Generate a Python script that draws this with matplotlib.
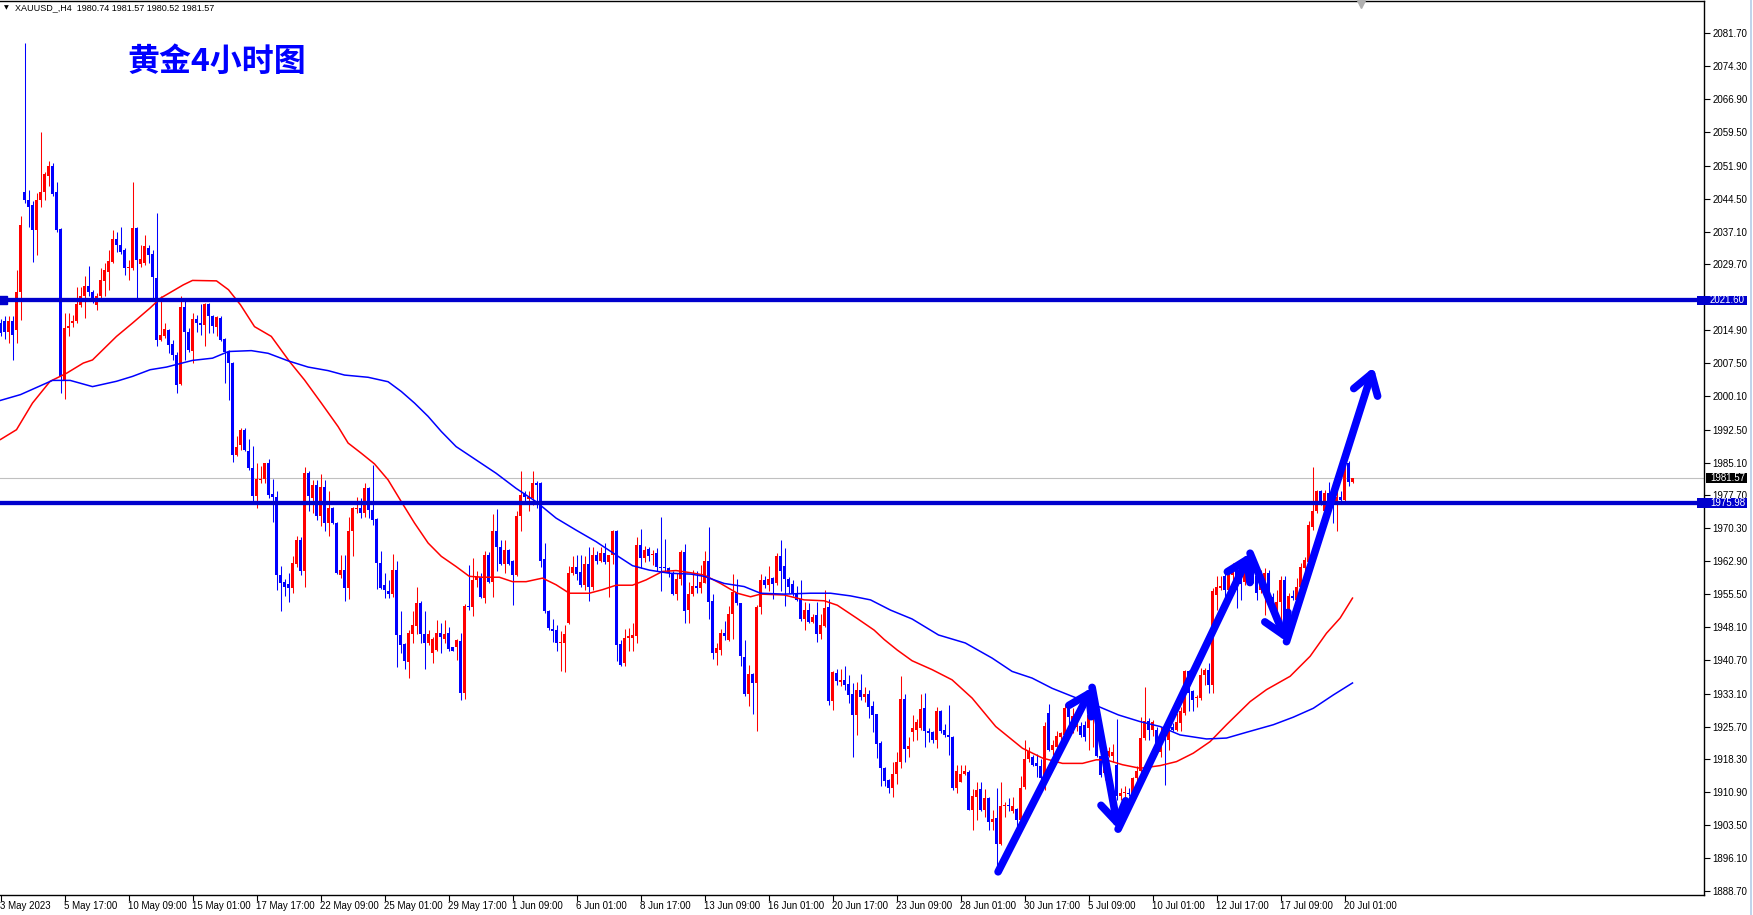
"""
XAUUSD H4 chart (MT4 style) with MAs, levels and trend arrows
"""
import matplotlib
matplotlib.use('Agg')
import matplotlib.pyplot as plt
import matplotlib.transforms as mtransforms
from matplotlib.patches import Rectangle
from matplotlib.lines import Line2D
import numpy as np

plt.rcParams['font.family'] = ['Liberation Sans', 'DejaVu Sans']

# ---- candle data (H4, 3 May 2023 -> 20 Jul 2023) ----
open_ = [
    2016.6, 2016.9, 2014.6, 2017.0, 2015.0, 2023.6, 2046.0, 2044.2, 2043.0, 2037.5,
    2044.2, 2046.0, 2049.7, 2051.9, 2046.1, 2037.7, 2003.7, 2015.4, 2016.5, 2016.9,
    2020.6, 2022.5, 2024.9, 2023.6, 2020.6, 2022.5, 2025.9, 2028.1, 2030.2, 2035.5,
    2034.1, 2033.0, 2028.8, 2028.9, 2038.0, 2029.8, 2030.0, 2033.4, 2032.0, 2026.6,
    2012.8, 2013.7, 2015.0, 2011.8, 2009.4, 2002.8, 2020.2, 2014.6, 2010.2, 2017.4,
    2016.6, 2016.1, 2020.8, 2018.2, 2015.7, 2017.6, 2012.9, 2010.0, 2007.5, 1986.8,
    1989.0, 1992.4, 1987.7, 1983.8, 1977.5, 1981.1, 1981.3, 1984.9, 1978.0, 1977.3,
    1959.8, 1958.3, 1957.8, 1956.8, 1962.3, 1967.7, 1960.7, 1982.8, 1977.1, 1980.1,
    1973.0, 1979.5, 1971.5, 1974.8, 1971.6, 1959.8, 1960.9, 1956.8, 1969.6, 1974.6,
    1974.8, 1973.7, 1979.3, 1974.5, 1972.3, 1962.4, 1957.6, 1956.3, 1955.5, 1960.9,
    1946.3, 1944.3, 1940.3, 1946.6, 1948.4, 1953.6, 1946.5, 1944.4, 1942.3, 1942.9,
    1946.8, 1945.3, 1946.8, 1943.5, 1943.7, 1945.0, 1933.2, 1952.9, 1952.5, 1958.7,
    1959.3, 1954.6, 1964.3, 1958.3, 1969.8, 1966.0, 1962.3, 1965.5, 1963.0, 1959.8,
    1973.1, 1978.2, 1976.9, 1977.1, 1980.6, 1980.5, 1963.4, 1951.8, 1947.6, 1947.5,
    1944.4, 1944.6, 1949.1, 1960.2, 1961.7, 1960.4, 1957.6, 1962.3, 1957.0, 1964.3,
    1963.0, 1964.8, 1962.8, 1964.3, 1969.6, 1944.3, 1940.1, 1945.6, 1945.6, 1946.1,
    1966.6, 1963.6, 1965.6, 1964.3, 1964.7, 1961.7, 1961.5, 1961.3, 1960.0, 1955.5,
    1958.9, 1964.9, 1951.9, 1955.5, 1957.3, 1956.8, 1958.1, 1963.0, 1953.9, 1942.3,
    1942.9, 1946.7, 1945.1, 1951.1, 1956.0, 1953.4, 1941.3, 1933.0, 1937.5, 1935.4,
    1952.5, 1958.7, 1957.5, 1959.2, 1957.9, 1964.0, 1961.8, 1959.0, 1957.8, 1955.5,
    1954.5, 1949.8, 1951.9, 1949.3, 1950.8, 1946.5, 1948.3, 1952.5, 1931.5, 1937.7,
    1935.8, 1936.1, 1935.2, 1933.0, 1928.3, 1934.0, 1932.3, 1933.0, 1930.3, 1928.5,
    1922.0, 1916.3, 1913.7, 1911.8, 1915.0, 1917.6, 1932.0, 1920.6, 1924.5, 1925.0,
    1925.3, 1929.8, 1924.6, 1924.4, 1922.7, 1929.1, 1924.9, 1923.8, 1923.4, 1911.8,
    1913.3, 1915.1, 1915.4, 1907.0, 1909.9, 1911.6, 1906.9, 1909.6, 1904.1, 1905.0,
    1899.3, 1907.7, 1908.0, 1906.6, 1907.1, 1904.7, 1912.0, 1918.4, 1918.8, 1917.5,
    1916.8, 1914.1, 1928.7, 1920.5, 1921.2, 1923.4, 1923.8, 1929.8, 1924.5, 1925.5,
    1925.9, 1926.0, 1925.3, 1928.1, 1929.5, 1919.0, 1915.2, 1919.1, 1919.0, 1917.1,
    1910.0, 1910.8, 1910.7, 1910.8, 1914.0, 1915.6, 1923.1, 1927.0, 1925.0, 1925.0,
    1920.0, 1925.7, 1922.7, 1925.7, 1924.9, 1926.5, 1928.7, 1938.1, 1933.6, 1932.2,
    1932.1, 1937.3, 1938.4, 1935.1, 1955.3, 1956.8, 1959.5, 1956.5, 1959.7, 1961.0,
    1961.1, 1958.3, 1960.2, 1962.1, 1959.5, 1956.5, 1955.7, 1960.2, 1954.9, 1951.4,
    1953.8, 1958.7, 1949.7, 1955.1, 1954.2, 1957.2, 1961.3, 1962.8, 1970.7, 1974.1,
    1978.7, 1974.1, 1978.2, 1977.1, 1975.9, 1977.4, 1976.7, 1985.0, 1980.74,
]

high = [
    2017.5, 2018.0, 2018.0, 2018.0, 2028.5, 2040.5, 2079.5, 2046.5, 2044.0, 2045.7,
    2059.6, 2050.6, 2053.0, 2052.5, 2048.3, 2038.0, 2018.7, 2018.7, 2018.4, 2024.7,
    2024.7, 2027.0, 2029.3, 2024.0, 2023.3, 2028.9, 2030.0, 2033.0, 2037.5, 2037.1,
    2038.2, 2033.4, 2030.7, 2048.2, 2038.2, 2034.1, 2036.4, 2034.1, 2032.9, 2041.2,
    2022.5, 2016.5, 2015.2, 2012.8, 2010.1, 2022.5, 2021.7, 2015.4, 2018.7, 2018.4,
    2020.8, 2021.0, 2021.1, 2018.4, 2018.2, 2018.0, 2013.1, 2010.5, 2007.8, 1991.0,
    1992.8, 1992.8, 1990.3, 1988.8, 1984.9, 1984.3, 1985.0, 1985.9, 1981.3, 1978.8,
    1961.9, 1958.9, 1960.2, 1964.1, 1968.6, 1968.4, 1984.0, 1983.2, 1981.2, 1981.2,
    1982.5, 1981.2, 1978.6, 1975.2, 1971.8, 1964.3, 1964.3, 1972.9, 1975.2, 1977.3,
    1977.1, 1980.5, 1979.7, 1984.6, 1972.6, 1965.1, 1960.2, 1958.7, 1964.6, 1963.0,
    1951.6, 1944.4, 1947.4, 1951.7, 1957.2, 1954.0, 1951.6, 1947.4, 1945.9, 1949.7,
    1948.9, 1949.7, 1948.2, 1943.7, 1945.3, 1946.7, 1953.2, 1962.0, 1963.6, 1960.6,
    1960.2, 1965.1, 1964.9, 1973.6, 1974.6, 1967.6, 1967.6, 1965.6, 1963.2, 1974.3,
    1983.1, 1978.8, 1978.6, 1983.3, 1981.0, 1980.8, 1967.1, 1952.0, 1949.9, 1948.6,
    1947.1, 1948.6, 1961.9, 1964.0, 1964.3, 1964.3, 1964.0, 1966.0, 1966.0, 1965.1,
    1966.0, 1966.9, 1964.4, 1970.0, 1970.0, 1945.2, 1947.6, 1947.8, 1949.1, 1968.3,
    1970.1, 1966.4, 1966.0, 1965.4, 1965.8, 1972.8, 1967.9, 1961.5, 1960.6, 1960.2,
    1965.5, 1966.8, 1958.3, 1961.0, 1960.7, 1962.0, 1965.2, 1970.5, 1955.5, 1944.4,
    1947.6, 1949.5, 1952.8, 1960.0, 1959.0, 1953.5, 1945.1, 1939.5, 1937.8, 1953.0,
    1960.0, 1959.5, 1961.8, 1959.4, 1964.7, 1967.6, 1965.8, 1959.4, 1958.7, 1957.3,
    1958.7, 1953.8, 1953.4, 1951.0, 1953.8, 1951.1, 1956.5, 1954.3, 1938.3, 1938.6,
    1938.6, 1939.3, 1937.3, 1935.6, 1935.8, 1937.5, 1934.6, 1934.0, 1931.5, 1928.6,
    1922.5, 1916.5, 1913.8, 1917.8, 1920.0, 1937.0, 1933.0, 1923.4, 1928.3, 1927.4,
    1933.0, 1933.2, 1925.3, 1924.8, 1930.2, 1929.5, 1926.3, 1930.6, 1923.6, 1917.1,
    1917.1, 1917.1, 1915.8, 1911.6, 1913.1, 1913.1, 1911.6, 1909.9, 1906.9, 1911.8,
    1913.1, 1908.8, 1909.6, 1909.8, 1907.3, 1914.5, 1922.7, 1921.2, 1919.3, 1919.5,
    1918.3, 1926.8, 1930.8, 1922.7, 1924.6, 1924.5, 1930.8, 1930.8, 1929.8, 1927.2,
    1926.8, 1927.0, 1930.2, 1932.5, 1932.1, 1919.7, 1921.0, 1921.2, 1921.7, 1927.3,
    1911.8, 1912.2, 1911.8, 1914.4, 1916.7, 1927.9, 1934.7, 1927.6, 1927.2, 1925.7,
    1925.7, 1926.5, 1927.2, 1926.5, 1928.7, 1930.2, 1938.5, 1938.5, 1933.9, 1932.8,
    1938.8, 1938.8, 1939.9, 1956.8, 1959.5, 1959.5, 1960.2, 1961.3, 1962.5, 1962.1,
    1961.7, 1963.2, 1963.6, 1963.9, 1960.2, 1960.9, 1961.3, 1960.9, 1955.7, 1956.4,
    1959.5, 1959.5, 1955.7, 1956.4, 1959.1, 1962.5, 1963.9, 1971.9, 1984.2, 1978.9,
    1978.9, 1978.9, 1980.8, 1978.6, 1978.6, 1978.6, 1985.0, 1985.4, 1981.57,
]

low = [
    2013.5, 2013.0, 2012.0, 2008.2, 2012.0, 2017.3, 2043.5, 2038.2, 2030.2, 2031.9,
    2042.7, 2044.2, 2047.3, 2045.0, 2037.1, 2000.7, 1999.3, 2013.5, 2015.7, 2016.5,
    2020.2, 2017.6, 2022.5, 2021.0, 2019.5, 2022.1, 2022.5, 2024.0, 2030.0, 2032.6,
    2032.0, 2027.4, 2026.2, 2028.5, 2022.1, 2029.1, 2029.6, 2030.0, 2022.1, 2011.3,
    2012.4, 2013.1, 2009.7, 2008.2, 2000.7, 2002.6, 2008.2, 2010.1, 2007.5, 2014.6,
    2013.9, 2011.3, 2014.2, 2014.2, 2013.5, 2012.4, 2003.0, 1999.1, 1985.3, 1986.5,
    1988.0, 1987.6, 1983.4, 1976.3, 1974.8, 1980.6, 1980.5, 1977.1, 1971.8, 1956.5,
    1951.8, 1955.1, 1953.8, 1955.7, 1961.6, 1959.8, 1957.0, 1974.1, 1973.7, 1972.2,
    1970.9, 1969.6, 1968.6, 1971.3, 1960.0, 1959.1, 1954.0, 1954.3, 1964.1, 1973.7,
    1972.6, 1972.8, 1972.6, 1971.1, 1956.6, 1956.6, 1954.6, 1954.6, 1954.8, 1939.2,
    1942.2, 1938.6, 1936.6, 1944.4, 1946.5, 1944.4, 1938.6, 1944.1, 1940.1, 1942.6,
    1942.3, 1944.4, 1942.8, 1942.6, 1940.7, 1931.7, 1932.0, 1952.0, 1950.6, 1957.2,
    1954.6, 1953.4, 1958.1, 1954.8, 1960.6, 1962.1, 1960.2, 1962.0, 1953.1, 1959.6,
    1969.6, 1976.3, 1974.1, 1975.6, 1974.8, 1961.7, 1951.2, 1947.5, 1944.8, 1942.8,
    1938.3, 1937.9, 1948.8, 1959.9, 1958.7, 1957.2, 1956.5, 1954.0, 1956.5, 1962.3,
    1962.8, 1962.3, 1954.8, 1962.3, 1940.5, 1939.3, 1939.4, 1942.6, 1942.6, 1944.6,
    1961.3, 1962.8, 1963.0, 1962.1, 1960.8, 1956.3, 1960.4, 1959.3, 1955.3, 1954.1,
    1957.6, 1949.0, 1948.9, 1955.1, 1955.7, 1955.7, 1957.9, 1950.0, 1941.0, 1939.5,
    1941.8, 1945.1, 1945.0, 1945.5, 1953.0, 1939.3, 1932.5, 1930.3, 1928.5, 1924.8,
    1951.0, 1956.8, 1956.2, 1954.5, 1957.5, 1956.3, 1952.8, 1955.7, 1955.0, 1953.9,
    1949.5, 1947.4, 1948.9, 1948.9, 1944.8, 1945.5, 1948.1, 1930.5, 1929.5, 1935.0,
    1934.8, 1933.9, 1930.9, 1918.9, 1923.8, 1931.7, 1931.3, 1927.7, 1924.5, 1918.7,
    1912.3, 1912.3, 1910.7, 1909.8, 1912.7, 1916.3, 1917.6, 1918.9, 1922.5, 1922.7,
    1924.9, 1921.2, 1922.3, 1922.1, 1920.8, 1924.2, 1923.3, 1919.3, 1911.3, 1910.8,
    1913.1, 1914.8, 1906.8, 1902.5, 1904.7, 1906.6, 1905.3, 1902.5, 1902.5, 1892.9,
    1899.1, 1905.4, 1906.6, 1906.2, 1902.5, 1904.3, 1911.6, 1917.8, 1916.7, 1914.4,
    1912.2, 1911.5, 1920.1, 1919.3, 1920.5, 1922.3, 1923.4, 1924.2, 1924.2, 1924.6,
    1923.4, 1922.5, 1920.5, 1921.2, 1918.8, 1914.4, 1913.7, 1918.9, 1917.7, 1909.2,
    1909.2, 1909.2, 1910.0, 1908.5, 1911.5, 1914.8, 1922.7, 1922.7, 1923.5, 1920.1,
    1918.9, 1912.6, 1920.5, 1924.6, 1924.6, 1924.6, 1928.3, 1929.1, 1929.1, 1930.2,
    1931.7, 1935.1, 1933.2, 1933.2, 1952.0, 1956.5, 1954.2, 1955.7, 1955.3, 1952.3,
    1954.2, 1957.6, 1959.8, 1957.9, 1954.2, 1955.7, 1950.8, 1953.8, 1950.4, 1948.9,
    1948.2, 1949.3, 1947.4, 1954.2, 1953.8, 1955.7, 1959.5, 1962.5, 1969.9, 1973.7,
    1975.6, 1973.7, 1974.4, 1971.4, 1969.6, 1976.3, 1976.3, 1979.9, 1980.52,
]

close = [
    2014.2, 2014.6, 2017.0, 2013.9, 2023.6, 2038.6, 2044.2, 2042.7, 2037.5, 2044.2,
    2046.0, 2050.1, 2051.9, 2045.6, 2037.5, 2004.5, 2015.4, 2015.9, 2017.0, 2020.8,
    2022.6, 2024.9, 2023.6, 2022.1, 2022.5, 2026.1, 2028.4, 2030.4, 2035.5, 2034.1,
    2032.6, 2028.9, 2029.1, 2038.0, 2030.7, 2030.9, 2033.9, 2031.9, 2026.9, 2012.8,
    2013.9, 2015.2, 2011.6, 2009.4, 2002.6, 2020.2, 2014.6, 2010.5, 2017.5, 2016.5,
    2016.1, 2020.8, 2018.0, 2015.9, 2017.9, 2012.8, 2010.1, 2007.5, 1986.8, 1988.7,
    1992.4, 1988.0, 1983.8, 1977.5, 1981.3, 1981.3, 1984.9, 1977.8, 1977.3, 1959.8,
    1958.1, 1957.2, 1956.8, 1962.4, 1967.6, 1960.6, 1982.8, 1977.5, 1980.1, 1973.0,
    1979.7, 1971.5, 1974.8, 1971.6, 1960.2, 1960.9, 1956.8, 1969.6, 1974.8, 1974.8,
    1973.7, 1979.3, 1974.5, 1972.2, 1962.4, 1956.8, 1956.5, 1955.5, 1960.9, 1946.3,
    1944.1, 1940.5, 1946.8, 1948.6, 1953.6, 1946.5, 1944.4, 1946.5, 1945.3, 1946.8,
    1945.8, 1946.5, 1943.1, 1942.8, 1945.1, 1933.2, 1952.9, 1952.6, 1958.7, 1959.3,
    1954.8, 1964.3, 1958.3, 1969.8, 1966.0, 1962.3, 1965.5, 1962.3, 1959.8, 1973.1,
    1977.8, 1977.3, 1977.3, 1980.6, 1980.1, 1963.0, 1951.6, 1947.8, 1947.3, 1944.6,
    1944.8, 1946.6, 1960.2, 1961.7, 1960.1, 1957.6, 1962.3, 1957.0, 1964.3, 1963.0,
    1964.7, 1962.8, 1964.3, 1969.6, 1944.1, 1939.6, 1945.6, 1946.0, 1946.3, 1966.6,
    1963.6, 1965.5, 1964.1, 1964.5, 1961.6, 1961.3, 1961.3, 1960.2, 1955.5, 1958.9,
    1964.9, 1951.8, 1955.6, 1957.3, 1956.8, 1958.3, 1963.0, 1953.8, 1942.3, 1943.3,
    1946.7, 1946.0, 1951.1, 1956.0, 1953.4, 1941.5, 1933.0, 1937.6, 1935.5, 1952.7,
    1958.7, 1957.5, 1959.0, 1957.7, 1964.0, 1960.8, 1959.0, 1957.1, 1955.5, 1954.1,
    1949.8, 1951.9, 1949.3, 1950.4, 1946.5, 1948.5, 1952.3, 1931.5, 1938.0, 1936.0,
    1936.2, 1935.0, 1932.8, 1928.3, 1934.0, 1932.4, 1933.0, 1930.2, 1928.3, 1921.7,
    1916.3, 1913.5, 1911.8, 1915.0, 1917.8, 1932.0, 1920.6, 1921.3, 1925.3, 1926.8,
    1929.6, 1924.6, 1924.2, 1922.7, 1929.1, 1924.8, 1923.8, 1923.4, 1911.8, 1915.6,
    1915.1, 1915.6, 1907.0, 1910.0, 1911.5, 1906.9, 1909.6, 1904.1, 1904.9, 1899.3,
    1907.9, 1908.0, 1907.7, 1907.9, 1904.7, 1911.8, 1918.4, 1920.1, 1917.1, 1916.7,
    1914.1, 1925.9, 1920.5, 1921.6, 1923.6, 1924.3, 1929.8, 1927.9, 1928.0, 1925.9,
    1923.8, 1923.3, 1928.3, 1931.7, 1919.1, 1914.8, 1919.8, 1920.1, 1920.0, 1910.0,
    1910.7, 1910.9, 1910.5, 1914.0, 1915.6, 1923.1, 1927.0, 1925.0, 1926.8, 1922.0,
    1923.0, 1922.7, 1924.9, 1924.9, 1926.8, 1929.1, 1938.1, 1933.2, 1931.7, 1932.4,
    1937.3, 1938.4, 1935.1, 1956.1, 1957.2, 1957.4, 1956.5, 1960.2, 1961.0, 1956.5,
    1957.8, 1961.3, 1962.8, 1958.7, 1955.7, 1960.2, 1960.2, 1954.2, 1951.2, 1953.8,
    1958.7, 1949.7, 1955.0, 1954.6, 1957.2, 1961.7, 1963.2, 1971.1, 1974.1, 1978.6,
    1975.9, 1978.3, 1974.8, 1976.1, 1977.4, 1976.7, 1983.8, 1980.8, 1981.57,
]

# moving averages, read at a bar index every few bars
ma_fast_x = [0, 4, 8, 12.4, 16.5, 20.7, 23, 29, 33, 37.4, 40, 45.7, 48, 54, 57, 60,
             63.5, 67.7, 72.3, 76, 80.2, 84.4, 86.9, 90.2, 93.5, 96.9, 100.2, 103.5,
             106.9, 110.2, 113.9, 117.2, 120.5, 124.7, 128, 131.4, 135.5, 138.9, 142.2,
             147.2, 150.5, 153.9, 158, 161.4, 165.5, 168.9, 172.6, 175.9, 180, 184.2,
             187.5, 190, 195.9, 200.9, 205.9, 209.2, 214.2, 218.4, 220.9, 224.2, 227.9,
             232.9, 237.9, 242.9, 248.8, 255.5, 260.5, 265.5, 270.5, 273.9, 276.4,
             280.5, 284.9, 289.9, 294, 298.2, 302.4, 306.5, 312.4, 316.5, 322.4, 327.4,
             331.5, 334.9, 338]
ma_fast_y = [1990.3, 1992.5, 1998.5, 2003.4, 2005.2, 2007.5, 2008.2, 2013.5, 2016.5,
             2019.9, 2022.1, 2025.1, 2026.1, 2026.0, 2024.0, 2020.6, 2015.7, 2013.5,
             2007.8, 2003.7, 1998.5, 1993.2, 1989.5, 1987.2, 1984.8, 1981.2, 1976.3,
             1971.5, 1967.0, 1964.0, 1961.7, 1959.5, 1959.3, 1959.3, 1958.3, 1958.3,
             1959.1, 1957.6, 1955.7, 1955.7, 1956.5, 1957.5, 1957.5, 1958.7, 1960.6,
             1960.8, 1960.3, 1959.8, 1957.9, 1955.7, 1954.9, 1955.5, 1955.3, 1954.2,
             1954.0, 1953.0, 1950.0, 1947.4, 1945.3, 1942.9, 1940.5, 1938.5, 1936.2,
             1932.1, 1925.7, 1920.8, 1918.6, 1917.4, 1917.4, 1918.2, 1918.2, 1917.1,
             1916.3, 1916.9, 1917.8, 1919.7, 1922.3, 1926.1, 1931.3, 1934.0, 1937.0,
             1941.5, 1946.7, 1950.1, 1954.6]

ma_slow_x = [0, 5, 10, 13, 17.4, 23, 29, 33, 37.4, 41.5, 48, 53, 57, 62.7, 66.9, 71.9,
             76.9, 81.9, 86, 91.9, 96.9, 100.2, 103.5, 106.9, 110.2, 113.9, 118.9,
             123.9, 128.9, 133.9, 138.9, 143.9, 148.9, 153.9, 158, 162.2, 167.2, 172.6,
             175.9, 180.9, 185.9, 190, 195.9, 202.5, 207.5, 212.5, 217.5, 222.5, 227.9,
             234.5, 241.2, 247.9, 252.9, 257.9, 262.9, 267.9, 274.5, 279.5, 284.9,
             289.9, 294.9, 301.5, 306.5, 311.5, 318.2, 323.2, 328.2, 333.2, 338]
ma_slow_y = [1999.1, 2000.4, 2002.4, 2003.6, 2003.6, 2002.2, 2003.4, 2004.5, 2006.0,
             2006.6, 2008.1, 2008.6, 2010.1, 2010.3, 2009.7, 2008.0, 2006.6, 2005.8,
             2004.8, 2004.3, 2003.3, 2001.1, 1998.5, 1995.5, 1992.1, 1988.7, 1985.7,
             1982.7, 1979.3, 1976.3, 1972.6, 1969.9, 1967.3, 1964.3, 1961.9, 1960.9,
             1960.2, 1960.0, 1959.5, 1957.9, 1957.2, 1955.7, 1955.5, 1955.7, 1955.7,
             1955.1, 1954.2, 1951.9, 1949.9, 1946.3, 1944.5, 1941.1, 1938.1, 1936.6,
             1934.3, 1932.5, 1930.2, 1928.3, 1926.8, 1925.7, 1923.8, 1922.9, 1923.1,
             1924.4, 1926.1, 1927.8, 1929.8, 1932.8, 1935.5]

# horizontal levels and last price
level_prices = [2021.60, 1975.98]
last_price = 1981.57

# hand-drawn trend arrows (bar index, price)
arrow_x = [249.4, 272.9, 279.4, 312.4, 321.5, 343.3]
arrow_y = [1893.0, 1934.5, 1902.6, 1964.7, 1944.8, 2006.6]

# axis labels
ytick_vals = [2081.70, 2074.30, 2066.90, 2059.50, 2051.90, 2044.50, 2037.10, 2029.70,
              2014.90, 2007.50, 2000.10, 1992.50, 1985.10, 1977.70, 1970.30, 1962.90,
              1955.50, 1948.10, 1940.70, 1933.10, 1925.70, 1918.30, 1910.90, 1903.50,
              1896.10, 1888.70]
xtick_labels = ['3 May 2023', '5 May 17:00', '10 May 09:00', '15 May 01:00',
                '17 May 17:00', '22 May 09:00', '25 May 01:00', '29 May 17:00',
                '1 Jun 09:00', '6 Jun 01:00', '8 Jun 17:00', '13 Jun 09:00',
                '16 Jun 01:00', '20 Jun 17:00', '23 Jun 09:00', '28 Jun 01:00',
                '30 Jun 17:00', '5 Jul 09:00', '10 Jul 01:00', '12 Jul 17:00',
                '17 Jul 09:00', '20 Jul 01:00']
xtick_step = 16

# colours
UP = '#FF0000'
DOWN = '#0000FF'
LEVEL = '#0000CD'
ARROW = '#0000FF'
LABEL_SIZE = 7

W, H = 1753, 915
fig = plt.figure(figsize=(W / 100, H / 100), dpi=100, facecolor='white')
# plot area in pixels: x 0..1704, y 1..894.5
ax = fig.add_axes([0, 1 - 894.5 / H, 1704 / W, 893.5 / H])
ax.set_facecolor('white')
ax.set_xlim(-0.125, 425.875)
ax.set_ylim(1887.89, 2088.99)

n = min(len(open_), len(high), len(low), len(close))
o = np.array(open_[:n])
c = np.array(close[:n])
hi = np.maximum(np.array(high[:n]), np.maximum(o, c))
lo = np.minimum(np.array(low[:n]), np.minimum(o, c))
idx = np.arange(n)
cols = np.where(c >= o, UP, DOWN)

# grey last price line
ax.axhline(last_price, color='#C0C0C0', lw=0.8, zorder=1)

# candles
ax.vlines(idx, lo, hi, colors=cols, lw=0.75, zorder=3)
body_bottom = np.minimum(o, c)
body_height = np.maximum(np.abs(c - o), 0.25)
ax.bar(idx, body_height, bottom=body_bottom, width=0.72, color=cols,
       linewidth=0, zorder=3)

# moving averages
ax.plot(ma_fast_x, ma_fast_y, color=UP, lw=1.1, zorder=4)
ax.plot(ma_slow_x, ma_slow_y, color=DOWN, lw=1.1, zorder=4)

# levels
for lvl in level_prices:
    ax.axhline(lvl, color=LEVEL, lw=3.1, zorder=5)
ax.plot([0.6], [level_prices[0]], marker='s', ms=6, color=LEVEL,
        clip_on=False, zorder=6)

# arrows
for k in range(len(arrow_x) - 1):
    ax.annotate('', xy=(arrow_x[k + 1], arrow_y[k + 1]),
                xytext=(arrow_x[k], arrow_y[k]),
                arrowprops=dict(arrowstyle='->,head_length=0.7,head_width=0.45',
                                lw=5.5, color=ARROW, shrinkA=0, shrinkB=0,
                                mutation_scale=20),
                zorder=7)

# chart shift marker
trans_xa = mtransforms.blended_transform_factory(ax.transData, ax.transAxes)
ax.plot([340.1], [1 - 3 / 893.5], marker='v', ms=6, color='#B0B0B0',
        transform=trans_xa, clip_on=False, zorder=8)

# axes, ticks
ax.spines['left'].set_visible(False)
for side in ['top', 'right', 'bottom']:
    ax.spines[side].set_color('black')
    ax.spines[side].set_linewidth(1.0)

ax.yaxis.tick_right()
ax.set_yticks(ytick_vals)
ax.set_yticklabels([f'{v:.2f}' for v in ytick_vals])
ax.tick_params(axis='y', direction='out', length=4, width=0.8, pad=2,
               labelsize=LABEL_SIZE, colors='black')

ax.set_xticks([k * xtick_step for k in range(len(xtick_labels))])
ax.set_xticklabels(xtick_labels, ha='left')
ax.tick_params(axis='x', direction='out', length=4, width=0.8, pad=1,
               labelsize=LABEL_SIZE, colors='black')

# price tags on the axis
trans_ay = mtransforms.blended_transform_factory(ax.transAxes, ax.transData)
tag_h = 2.2


def price_tag(price, text, bg, x0_px, x1_px):
    ax.add_patch(Rectangle((x0_px / 1704, price - tag_h / 2), (x1_px - x0_px) / 1704,
                           tag_h, transform=trans_ay, facecolor=bg,
                           edgecolor='none', clip_on=False, zorder=20))
    ax.text(1710 / 1704, price, text, transform=trans_ay, ha='left', va='center',
            color='white', fontsize=LABEL_SIZE, clip_on=False, zorder=21)


for lvl in level_prices:
    price_tag(lvl, f'{lvl:.2f}', LEVEL, 1697, 1747)
price_tag(last_price, f'{last_price:.2f}', 'black', 1706, 1747)

# header + title
fig.text(4 / W, 1 - 8 / H, '\u25bc', fontsize=4.5, va='center',
         family='DejaVu Sans', color='black')
fig.text(15 / W, 1 - 8 / H, 'XAUUSD_,H4  1980.74 1981.57 1980.52 1981.57',
         fontsize=6.5, va='center', color='black')
fig.text(127 / W, 1 - 62 / H, '黄金4小时图', fontsize=23, fontweight='bold',
         color='#0000FF', va='center', family=['Noto Sans CJK SC', 'DejaVu Sans'])

# window edge on the far right
fig.add_artist(Line2D([1750.5 / W, 1750.5 / W], [0, 1], color='#B4CCE8', lw=1.2))

fig.savefig('out.png', dpi=100, facecolor='white')
